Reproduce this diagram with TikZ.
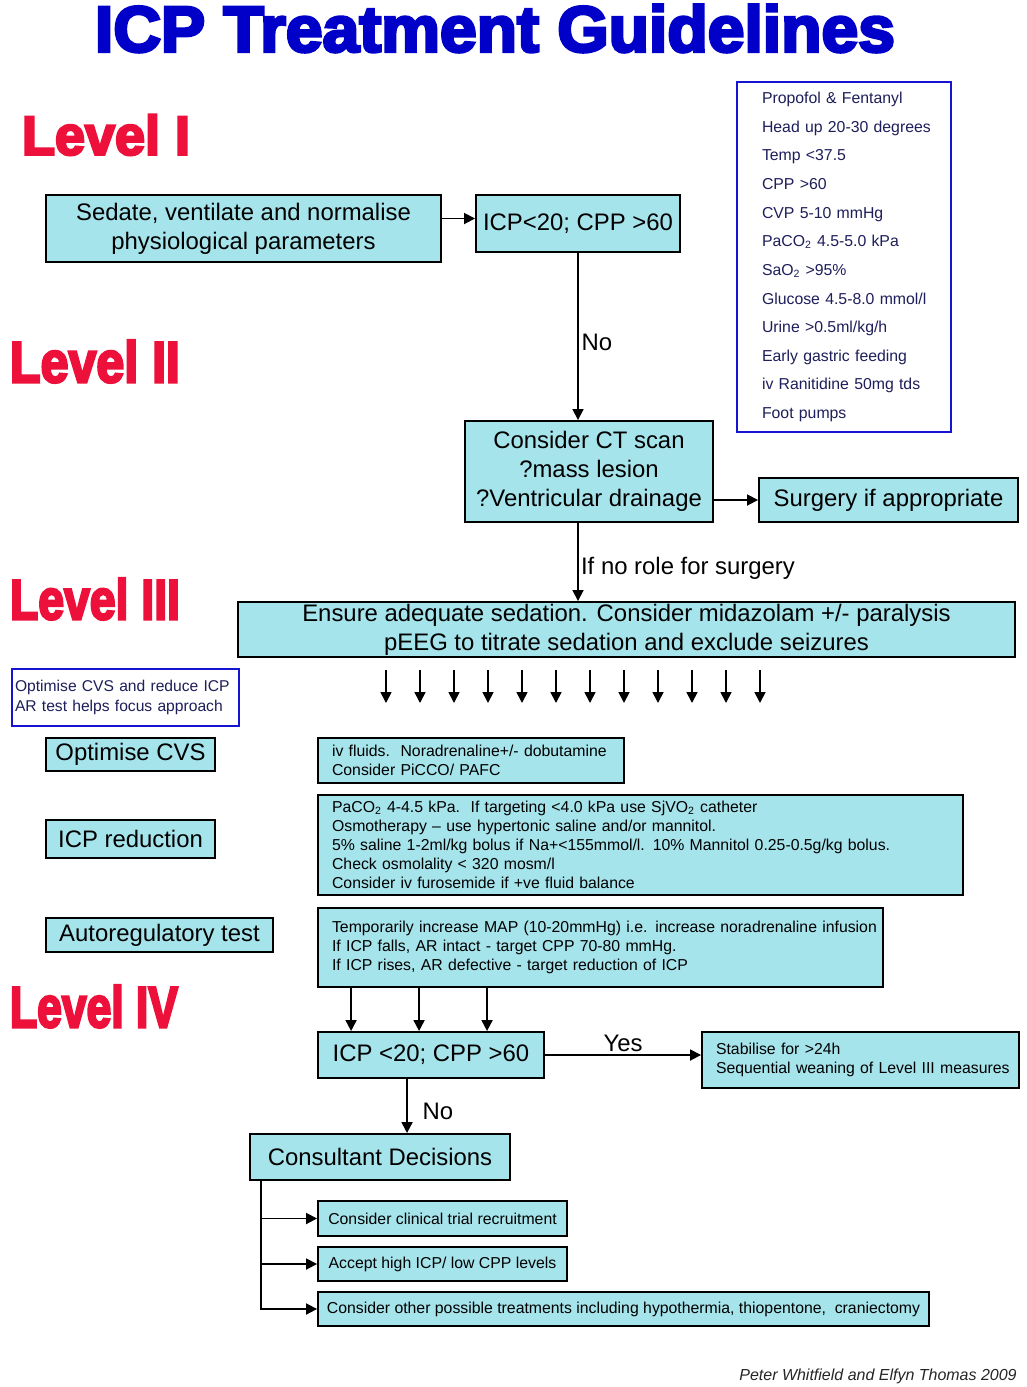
\documentclass[tikz,border=0pt]{standalone}
\usepackage{fontspec}
\setmainfont{Liberation Sans}
\newfontfamily\heavy[BoldFeatures={FakeBold=4.5}]{Liberation Sans}
\usetikzlibrary{arrows.meta}
\definecolor{boxc}{RGB}{166,228,236}
\definecolor{lvl}{RGB}{236,16,58}
\definecolor{ttl}{RGB}{0,0,200}
\definecolor{navy}{RGB}{30,30,90}
\definecolor{bl}{RGB}{20,20,210}
\begin{document}
\begin{tikzpicture}[x=0.02cm,y=-0.02cm,
 box/.style={draw=black,line width=1.1pt,fill=boxc,inner sep=0pt,align=center,font=\fontsize{13.6}{16.5}\selectfont},
 sbox/.style={draw=black,line width=1.1pt,fill=boxc,inner sep=0pt,align=left,font=\fontsize{9}{10.9}\selectfont},
 cbox/.style={draw=black,line width=1.1pt,fill=boxc,inner sep=0pt,align=center,font=\fontsize{9}{10.9}\selectfont},
 bbox/.style={draw=bl,line width=1.1pt,fill=white,inner sep=0pt,align=left},
 arr/.style={-{Triangle[length=0.22cm,width=0.22cm]},line width=1pt},
 lvlabel/.style={text=lvl,inner sep=0pt},
 lbl/.style={font=\fontsize{13.6}{15}\selectfont,inner sep=0pt}]
\useasboundingbox[fill=white] (0,0) rectangle (1027,1387);

% title and levels
\node[inner sep=0pt,text=ttl] (title) at (495,28.5) {\resizebox{16cm}{0.94cm}{\heavy\bfseries ICP Treatment Guidelines}};
\node[lvlabel] (lv1) at (106,135) {\resizebox{3.36cm}{0.8cm}{\heavy\bfseries Level I}};
\node[lvlabel] (lv2) at (95,361.5) {\resizebox{3.4cm}{0.84cm}{\heavy\bfseries Level II}};
\node[lvlabel] (lv3) at (95,599) {\resizebox{3.4cm}{0.82cm}{\heavy\bfseries Level III}};
\node[lvlabel] (lv4) at (94,1006.5) {\resizebox{3.36cm}{0.84cm}{\heavy\bfseries Level IV}};

% parameters box
\node[bbox,text width=4.28cm,minimum height=7cm,font=\fontsize{9}{16.3}\selectfont,text=navy] (params) at (844,257)
 {\leftskip=0.5cm Propofol \& Fentanyl\\ Head up 20-30 degrees\\ Temp <37.5\\ CPP >60\\ CVP 5-10 mmHg\\ PaCO\textsubscript{2} 4.5-5.0 kPa\\ SaO\textsubscript{2} >95\%\\ Glucose 4.5-8.0 mmol/l\\ Urine >0.5ml/kg/h\\ Early gastric feeding\\ iv Ranitidine 50mg tds\\ Foot pumps\par};

% level I / II
\node[box,minimum width=7.9cm,minimum height=1.34cm] (b1) at (243.5,228.5) {Sedate, ventilate and normalise\\ physiological parameters};
\node[box,minimum width=4.08cm,minimum height=1.14cm] (b2) at (578,223.5) {ICP<20; CPP >60};
\node[box,minimum width=4.96cm,minimum height=2.02cm] (b3) at (589,471.5) {Consider CT scan\\ ?mass lesion\\ ?Ventricular drainage};
\node[box,minimum width=5.18cm,minimum height=0.88cm] (b4) at (888.5,500) {Surgery if appropriate};
\node[box,minimum width=15.54cm,minimum height=1.1cm] (b5) at (626.5,629.5) {Ensure adequate sedation. Consider midazolam +/- paralysis\\ pEEG to titrate sedation and exclude seizures};

\draw[arr] ([yshift=0.2cm]b1.east) -- ([yshift=0.2cm]b1.east -| b2.west);
\draw[arr] (b2.south) -- (b2.south |- b3.north);
\node[lbl] (no1) at (597,342) {No};
\draw[arr] (b4.west -| b3.east) -- (b4.west);
\draw[arr] (b3.south -| b2.south) -- (b2.south |- b5.north);
\node[lbl] (surg) at (688,568) {If no role for surgery};

\foreach \i in {0,...,11} {
  \coordinate (s\i) at (386+34*\i,670);
  \coordinate (e\i) at (386+34*\i,703);
  \draw[arr] (s\i) -- (e\i);
}

% level III
\node[bbox,text width=4.54cm,minimum height=1.14cm,font=\fontsize{8.9}{10.9}\selectfont,text=navy] (note) at (125.5,697.5)
 {\leftskip=0.06cm Optimise CVS and reduce ICP\\ AR test helps focus approach\par};
\node[box,minimum width=3.38cm,minimum height=0.66cm] (b10) at (130.5,754.5) {Optimise CVS};
\node[box,minimum width=3.38cm,minimum height=0.76cm] (b11) at (130.5,839) {ICP reduction};
\node[box,minimum width=4.54cm,minimum height=0.68cm] (b12) at (159.5,935) {Autoregulatory test};

\node[sbox,text width=6.12cm,minimum height=0.9cm] (b13) at (471,760.5)
 {\leftskip=0.28cm iv fluids.\ \ Noradrenaline+/- dobutamine\\ Consider PiCCO/ PAFC\par};
\node[sbox,text width=12.9cm,minimum height=2cm] (b14) at (640.5,845)
 {\leftskip=0.28cm PaCO\textsubscript{2} 4-4.5 kPa.\ \ If targeting <4.0 kPa use SjVO\textsubscript{2} catheter\\
  Osmotherapy -- use hypertonic saline and/or mannitol.\\
  5\% saline 1-2ml/kg bolus if Na+<155mmol/l. 10\% Mannitol 0.25-0.5g/kg bolus.\\
  Check osmolality < 320 mosm/l\\
  Consider iv furosemide if +ve fluid balance\par};
\node[sbox,text width=11.3cm,minimum height=1.58cm] (b15) at (600.5,947.5)
 {\leftskip=0.28cm Temporarily increase MAP (10-20mmHg) i.e. increase noradrenaline infusion\\
  If ICP falls, AR intact - target CPP 70-80 mmHg.\\
  If ICP rises, AR defective - target reduction of ICP\par};

% level IV
\node[box,minimum width=4.52cm,minimum height=0.92cm] (b17) at (431,1055) {ICP <20; CPP >60};
\node[sbox,text width=6.34cm,minimum height=1.12cm] (b19) at (860.5,1060)
 {\leftskip=0.28cm Stabilise for >24h\\ Sequential weaning of Level III measures\par};
\node[box,minimum width=5.2cm,minimum height=0.92cm] (b21) at (380,1157) {Consultant Decisions};
\node[cbox,minimum width=4.98cm,minimum height=0.7cm] (c1) at (442.5,1218.5) {Consider clinical trial recruitment};
\node[cbox,minimum width=4.98cm,minimum height=0.68cm] (c2) at (442.5,1264) {Accept high ICP/ low CPP levels};
\node[cbox,minimum width=12.22cm,minimum height=0.68cm] (c3) at (623.5,1309) {Consider other possible treatments including hypothermia, thiopentone,\ \ craniectomy};

\foreach \d in {0.68,2.04,3.4} {
  \draw[arr] ([xshift=\d cm]b15.south west) -- ([xshift=\d cm]b15.south west |- b17.north);
}
\draw[arr] (b17.east) -- (b17.east -| b19.west);
\node[lbl] (yes) at (623,1043) {Yes};
\draw[arr] ([xshift=1.8cm]b17.south west) -- ([xshift=1.8cm]b17.south west |- b21.north);
\node[lbl] (no2) at (438,1111) {No};
\draw[arr] ([xshift=0.24cm]b21.south west) |- (c1.west);
\draw[arr] ([xshift=0.24cm]b21.south west) |- (c2.west);
\draw[arr] ([xshift=0.24cm]b21.south west) |- (c3.west);

\node[inner sep=0pt,font=\fontsize{9.1}{10}\selectfont\itshape,text=black!85] (credit) at (878,1376) {Peter Whitfield and Elfyn Thomas 2009};
\end{tikzpicture}
\end{document}
